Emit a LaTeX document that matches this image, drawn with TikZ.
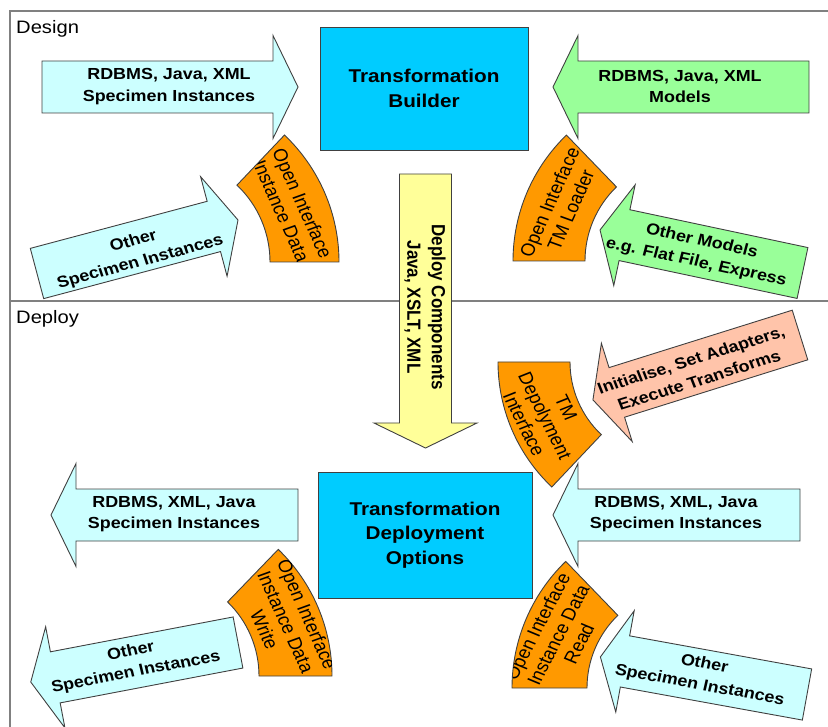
\documentclass[tikz,border=0pt]{standalone}
\usepackage{fontspec}
\setmainfont{Liberation Sans}
\definecolor{cyanfill}{HTML}{CCFFFF}
\definecolor{greenfill}{HTML}{99FF99}
\definecolor{salmonfill}{HTML}{FFC4AA}
\definecolor{yellowfill}{HTML}{FFFF99}
\definecolor{bluefill}{HTML}{00CCFF}
\definecolor{orangefill}{HTML}{FF9900}
\definecolor{edge}{HTML}{404040}
\newcommand{\blockarrow}[5]{%
  \draw[#5, shift={(#1pt,-#2pt)}, rotate=#3]
    (0,-26) -- ({#4-25},-26) -- ({#4-25},-51.5) -- (#4,0) --
    ({#4-25},51.5) -- ({#4-25},26) -- (0,26) -- cycle;}
\newcommand{\osector}[6]{%
  \filldraw[orangebox, shift={(#1pt,-#2pt)}]
    (#3:#5pt) arc[start angle=#3, end angle=#4, radius=#5pt] --
    (#4:#6pt) arc[start angle=#4, end angle=#3, radius=#6pt] -- cycle;
  \clip[shift={(#1pt,-#2pt)}]
    (#3:#5pt) arc[start angle=#3, end angle=#4, radius=#5pt] --
    (#4:#6pt) arc[start angle=#4, end angle=#3, radius=#6pt] -- cycle;}
\begin{document}
\begin{tikzpicture}[x=1pt, y=1pt,
  frame/.style={draw=black!50, line width=1.4pt},
  shapeline/.style={draw=edge, line width=0.9pt, line join=miter},
  cyanbox/.style={shapeline, fill=cyanfill},
  greenbox/.style={shapeline, fill=greenfill},
  salmonbox/.style={shapeline, fill=salmonfill},
  yellowbox/.style={shapeline, fill=yellowfill},
  orangebox/.style={shapeline, fill=orangefill},
  bluebox/.style={shapeline, fill=bluefill, inner sep=0pt},
  btxt/.style={xscale=1.12, font=\bfseries\fontsize{16}{21.5}\selectfont, align=center, inner sep=0pt},
  ytxt/.style={xscale=1.12, font=\bfseries\fontsize{17}{22}\selectfont, align=center, inner sep=0pt},
  boxtxt/.style={xscale=1.12, font=\bfseries\fontsize{18.5}{24.5}\selectfont, align=center, inner sep=0pt},
  otxt/.style={xscale=1.12, font=\fontsize{17.5}{20.5}\selectfont, align=center, inner sep=0pt},
  lbl/.style={xscale=1.12, font=\fontsize{18}{20}\selectfont, anchor=west, inner sep=0pt}]
\useasboundingbox (0,0) rectangle (828,-727);
% frame
\draw[frame] (10,-727) -- (10,-11) -- (828,-11);
\draw[frame] (10,-301) -- (828,-301);
\node[lbl] (design) at (16,-29) {Design};
\node[lbl] (deploy) at (16,-319) {Deploy};
% boxes
\node[bluebox, minimum width=208pt, minimum height=123pt] (tb) at (424,-88.5) {};
\node[boxtxt] (tbt) at (tb.center) {Transformation\\Builder};
\node[bluebox, minimum width=214pt, minimum height=126pt] (td) at (425,-535) {};
\node[boxtxt] (tdt) at (td.center) {Transformation\\Deployment\\Options};
% block arrows
\blockarrow{42}{87}{0}{256}{cyanbox}
\node[btxt] (a1) at (169,-86.5) {RDBMS, Java, XML\\Specimen Instances};
\blockarrow{809}{87}{180}{256}{greenbox}
\node[btxt] (a2) at (680,-86.5) {RDBMS, Java, XML\\Models};
\blockarrow{37}{273.5}{14.9}{208}{cyanbox}
\node[btxt, rotate=16.6] (a3) at (137,-252) {Other\\Specimen Instances};
\blockarrow{802.5}{273}{168}{207}{greenbox}
\node[btxt, rotate=-13.4] (a4) at (699,-252) {Other Models\\e.g. Flat File, Express};
\blockarrow{800}{335}{197.4}{217}{salmonbox}
\node[btxt, rotate=19.3] (a5) at (695,-370) {Initialise, Set Adapters,\\Execute Transforms};
\blockarrow{298}{515}{180}{247}{cyanbox}
\node[btxt] (a6) at (174,-514) {RDBMS, XML, Java\\Specimen Instances};
\blockarrow{800}{515}{180}{247}{cyanbox}
\node[btxt] (a7) at (676,-514) {RDBMS, XML, Java\\Specimen Instances};
\blockarrow{238}{642.5}{190.8}{211}{cyanbox}
\node[btxt, rotate=12.1] (a8) at (133.5,-662) {Other\\Specimen Instances};
\blockarrow{807}{694.5}{169.7}{210}{cyanbox}
\node[btxt, rotate=-11.5] (a9) at (702,-675) {Other\\Specimen Instances};
\blockarrow{425.5}{174}{-90}{274}{yellowbox}
\node[ytxt, rotate=-90] (ya) at (425,-307) {Deploy Components\\Java, XSLT, XML};
% orange interface sectors
\begin{scope}
\osector{164}{262}{0}{46.5}{175}{106}
\node[otxt, rotate=-68] (o1) at (292,-207) {Open Interface\\Instance Data};
\end{scope}
\begin{scope}
\osector{688}{261}{134}{180}{175}{103}
\node[otxt, rotate=68] (o2) at (560,-206) {Open Interface\\TM Loader};
\end{scope}
\begin{scope}
\osector{670}{362}{180}{226.6}{172}{100}
\node[otxt, rotate=-66] (o3) at (545,-416) {TM\\Depolyment\\Interface};
\end{scope}
\begin{scope}
\osector{156}{676}{0}{46}{176}{103}
\node[otxt, rotate=-68] (o4) at (286,-622) {Open Interface\\Instance Data\\Write};
\end{scope}
\begin{scope}
\osector{688}{688}{134}{180}{176}{101}
\node[otxt, rotate=65] (o5) at (558,-635) {Open Interface\\Instance Data\\Read};
\end{scope}
\end{tikzpicture}
\end{document}
